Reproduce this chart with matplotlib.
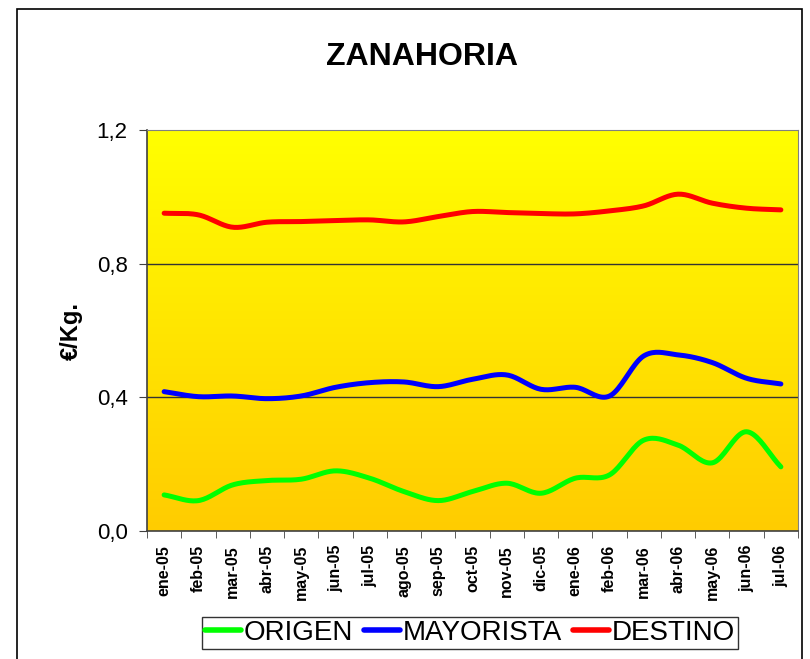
import numpy as np
import matplotlib.pyplot as plt
from matplotlib.patches import Rectangle

plt.rcParams['font.family'] = ['Liberation Sans', 'DejaVu Sans']

meses = ['ene-05', 'feb-05', 'mar-05', 'abr-05', 'may-05', 'jun-05', 'jul-05',
         'ago-05', 'sep-05', 'oct-05', 'nov-05', 'dic-05', 'ene-06', 'feb-06',
         'mar-06', 'abr-06', 'may-06', 'jun-06', 'jul-06']
origen = [0.108, 0.091, 0.138, 0.151, 0.155, 0.180, 0.158, 0.118, 0.091, 0.118,
          0.143, 0.113, 0.158, 0.168, 0.272, 0.257, 0.204, 0.297, 0.192]
mayorista = [0.417, 0.402, 0.404, 0.396, 0.404, 0.430, 0.444, 0.446, 0.432, 0.454,
             0.467, 0.424, 0.430, 0.404, 0.524, 0.527, 0.504, 0.457, 0.440]
destino = [0.951, 0.946, 0.909, 0.924, 0.926, 0.929, 0.931, 0.925, 0.941, 0.956,
           0.953, 0.950, 0.949, 0.958, 0.973, 1.008, 0.981, 0.966, 0.961]
yticks = [0.0, 0.4, 0.8, 1.2]
ylabels = ['0,0', '0,4', '0,8', '1,2']


def suavizar(y, n=20):
    # curva Catmull-Rom que pasa por cada punto (linea suavizada)
    y = np.asarray(y, float)
    p = np.concatenate([[2 * y[0] - y[1]], y, [2 * y[-1] - y[-2]]])
    xs, ys = [], []
    for i in range(len(y) - 1):
        t = np.linspace(0, 1, n, endpoint=False)
        p0, p1, p2, p3 = p[i], p[i + 1], p[i + 2], p[i + 3]
        ys.append(0.5 * (2 * p1 + (-p0 + p2) * t + (2 * p0 - 5 * p1 + 4 * p2 - p3) * t ** 2
                         + (-p0 + 3 * p1 - 3 * p2 + p3) * t ** 3))
        xs.append(i + t)
    xs.append([len(y) - 1])
    ys.append([y[-1]])
    return np.concatenate(xs), np.concatenate(ys)


fig = plt.figure(figsize=(8.1, 6.59), dpi=100)
fig.patches.append(Rectangle((17 / 810, -0.02), 785 / 810, 1 - 9 / 659 + 0.02,
                             transform=fig.transFigure, fill=False,
                             edgecolor='black', lw=1.2))

ax = fig.add_axes([147 / 810, 128 / 659, 651 / 810, 401 / 659])
n = len(meses)
ax.set_xlim(-0.5, n - 0.5)
ax.set_ylim(0, 1.2)

# fondo degradado amarillo -> naranja
grad = np.linspace(0, 1, 256).reshape(-1, 1)
ax.imshow(grad, extent=[-0.5, n - 0.5, 0, 1.2], aspect='auto', origin='upper',
          cmap=plt.matplotlib.colors.LinearSegmentedColormap.from_list(
              'g', ['#ffff00', '#ffcc00']), zorder=0)

for yv in yticks[1:3]:
    ax.axhline(yv, color='#333333', lw=1, zorder=1)

for serie, col, lab in [(origen, '#00ff00', 'ORIGEN'),
                        (mayorista, '#0000ff', 'MAYORISTA'),
                        (destino, '#ff0000', 'DESTINO')]:
    xs, ys = suavizar(serie)
    ax.plot(xs, ys, color=col, lw=3.6, solid_capstyle='round', label=lab, zorder=3)

for s in ['top', 'right']:
    ax.spines[s].set_color('#808080')
for s in ['left', 'bottom']:
    ax.spines[s].set_color('#404040')
    ax.spines[s].set_linewidth(1.2)

ax.set_yticks(yticks)
ax.set_yticklabels(ylabels, fontsize=16)
ax.set_xticks(np.arange(n))
ax.set_xticklabels(meses, rotation=90, fontsize=11.5, fontweight='bold')
ax.set_xticks(np.arange(n + 1) - 0.5, minor=True)
ax.tick_params(axis='x', which='major', length=0, pad=10)
ax.tick_params(axis='x', which='minor', length=5, color='#404040')
ax.tick_params(axis='y', length=6, color='#404040', pad=8)
ax.set_ylabel('€/Kg.', fontsize=17, fontweight='bold', labelpad=10)

fig.text(422 / 810, 1 - 57 / 659, 'ZANAHORIA', ha='center', va='center',
         fontsize=23, fontweight='bold')

leg = fig.legend(loc='center', bbox_to_anchor=(470 / 810, 1 - 633 / 659), ncol=3,
                 fontsize=20, frameon=True, fancybox=False, handlelength=1.3,
                 handletextpad=0.1, columnspacing=0.4, borderpad=0.1,
                 borderaxespad=0, edgecolor='black')
leg.get_frame().set_linewidth(1)
for h in leg.get_lines():
    h.set_linewidth(4)

fig.savefig('out.png', dpi=100)
